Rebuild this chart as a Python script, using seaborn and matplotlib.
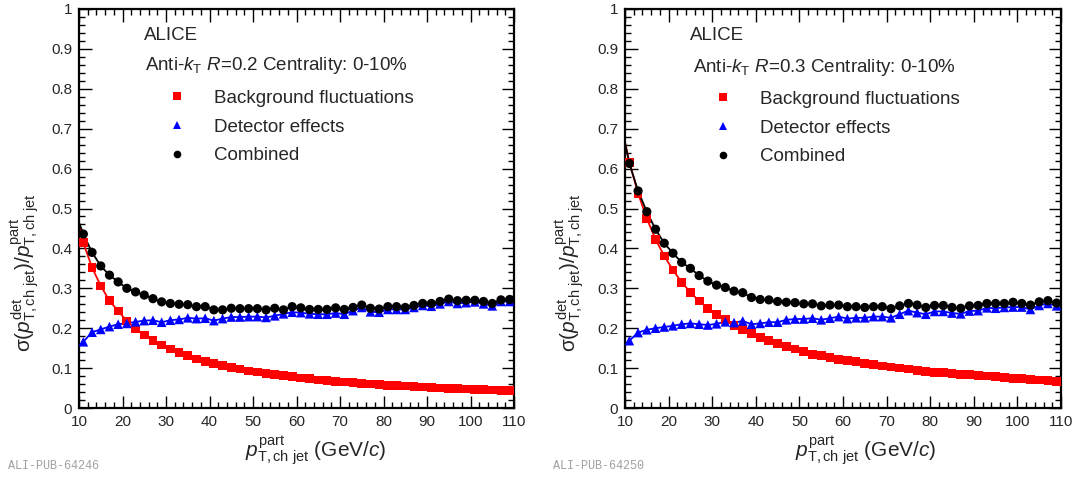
import matplotlib
matplotlib.use("Agg")
import matplotlib.pyplot as plt
from matplotlib.lines import Line2D
from matplotlib.ticker import FixedLocator, FixedFormatter, MultipleLocator
import seaborn as sns

# ---------------- data ----------------
pt_bins = [11, 13, 15, 17, 19, 21, 23, 25, 27, 29, 31, 33, 35, 37, 39, 41, 43, 45, 47, 49,
           51, 53, 55, 57, 59, 61, 63, 65, 67, 69, 71, 73, 75, 77, 79, 81, 83, 85, 87, 89,
           91, 93, 95, 97, 99, 101, 103, 105, 107, 109]

# R = 0.2
bkg_r02 = [0.414, 0.352, 0.306, 0.269, 0.243, 0.218, 0.198, 0.183, 0.170, 0.158,
           0.148, 0.139, 0.131, 0.123, 0.117, 0.111, 0.106, 0.102, 0.098, 0.093,
           0.090, 0.087, 0.083, 0.081, 0.078, 0.075, 0.073, 0.070, 0.0685, 0.067,
           0.065, 0.0635, 0.062, 0.060, 0.0585, 0.057, 0.056, 0.055, 0.0535, 0.0525,
           0.052, 0.050, 0.049, 0.0485, 0.0475, 0.047, 0.046, 0.045, 0.044, 0.0435]
det_r02 = [0.166, 0.190, 0.197, 0.204, 0.210, 0.212, 0.216, 0.219, 0.220, 0.215,
           0.220, 0.222, 0.226, 0.224, 0.225, 0.219, 0.224, 0.228, 0.228, 0.229,
           0.229, 0.227, 0.231, 0.236, 0.240, 0.239, 0.236, 0.235, 0.235, 0.238,
           0.235, 0.244, 0.252, 0.241, 0.240, 0.247, 0.247, 0.247, 0.252, 0.257,
           0.255, 0.261, 0.267, 0.262, 0.264, 0.266, 0.261, 0.256, 0.267, 0.267]
comb_r02 = [0.436, 0.390, 0.356, 0.333, 0.316, 0.300, 0.291, 0.283, 0.274, 0.266,
            0.262, 0.260, 0.259, 0.254, 0.254, 0.246, 0.246, 0.250, 0.249, 0.249,
            0.249, 0.246, 0.250, 0.246, 0.254, 0.251, 0.247, 0.247, 0.247, 0.251,
            0.247, 0.252, 0.258, 0.250, 0.248, 0.254, 0.254, 0.252, 0.257, 0.262,
            0.262, 0.267, 0.273, 0.269, 0.270, 0.270, 0.267, 0.262, 0.271, 0.272]

# R = 0.3
bkg_r03 = [0.616, 0.538, 0.475, 0.423, 0.381, 0.346, 0.315, 0.290, 0.268, 0.250,
           0.235, 0.221, 0.207, 0.196, 0.186, 0.177, 0.169, 0.161, 0.154, 0.148,
           0.141, 0.135, 0.131, 0.127, 0.122, 0.120, 0.116, 0.112, 0.109, 0.105,
           0.103, 0.100, 0.098, 0.094, 0.092, 0.089, 0.088, 0.086, 0.084, 0.083,
           0.081, 0.080, 0.0785, 0.076, 0.074, 0.0735, 0.072, 0.070, 0.0685, 0.067]
det_r03 = [0.169, 0.189, 0.196, 0.200, 0.203, 0.206, 0.210, 0.212, 0.210, 0.208,
           0.211, 0.216, 0.214, 0.218, 0.210, 0.212, 0.215, 0.215, 0.221, 0.223,
           0.223, 0.225, 0.221, 0.225, 0.229, 0.224, 0.226, 0.226, 0.229, 0.229,
           0.226, 0.235, 0.244, 0.239, 0.235, 0.242, 0.242, 0.238, 0.236, 0.243,
           0.244, 0.251, 0.250, 0.252, 0.253, 0.253, 0.247, 0.257, 0.262, 0.256]
comb_r03 = [0.613, 0.544, 0.492, 0.448, 0.413, 0.388, 0.365, 0.350, 0.332, 0.318,
            0.308, 0.302, 0.293, 0.289, 0.277, 0.272, 0.271, 0.267, 0.265, 0.264,
            0.261, 0.261, 0.256, 0.258, 0.258, 0.254, 0.254, 0.252, 0.254, 0.254,
            0.249, 0.256, 0.262, 0.258, 0.252, 0.257, 0.257, 0.252, 0.250, 0.256,
            0.257, 0.262, 0.262, 0.262, 0.265, 0.262, 0.258, 0.266, 0.269, 0.263]

# curve values at the lower edge (x = 10) where the drawn curves start
curve_start_x = 10
start_r02 = {"bkg": 0.46, "det": 0.155, "comb": 0.465}
start_r03 = {"bkg": 0.665, "det": 0.158, "comb": 0.665}

x_ticks = [10, 20, 30, 40, 50, 60, 70, 80, 90, 100, 110]
x_tick_labels = ["10", "20", "30", "40", "50", "60", "70", "80", "90", "100", "110"]
y_ticks = [0, 0.1, 0.2, 0.3, 0.4, 0.5, 0.6, 0.7, 0.8, 0.9, 1.0]
y_tick_labels = ["0", "0.1", "0.2", "0.3", "0.4", "0.5", "0.6", "0.7", "0.8", "0.9", "1"]

series_labels = ["Background fluctuations", "Detector effects", "Combined"]
radius_labels = ["0.2", "0.3"]
pub_ids = ["ALI-PUB-64246", "ALI-PUB-64250"]

# ---------------- style ----------------
sns.set_style("ticks")
FONT = "Liberation Sans"
plt.rcParams["font.family"] = [FONT, "DejaVu Sans"]
plt.rcParams["mathtext.fontset"] = "custom"
plt.rcParams["mathtext.rm"] = FONT
plt.rcParams["mathtext.it"] = FONT + ":italic"
plt.rcParams["mathtext.bf"] = FONT + ":bold"

W, H = 1078, 478
fig = plt.figure(figsize=(W / 100, H / 100), dpi=100)

def fx(px):
    return px / W

def fy(py):
    return 1 - py / H

panels = [
    dict(ax_px=(79, 9, 514, 408), bkg=bkg_r02, det=det_r02, comb=comb_r02, start=start_r02,
         R=radius_labels[0], pub=pub_ids[0], alice=(144, 36), anti=(145, 66),
         leg=(158, 127), xlab=(316, 451), ylab=(25, 272), pubpos=(8, 466)),
    dict(ax_px=(625, 9, 1061, 408), bkg=bkg_r03, det=det_r03, comb=comb_r03, start=start_r03,
         R=radius_labels[1], pub=pub_ids[1], alice=(690, 36), anti=(693, 67),
         leg=(704, 128), xlab=(866, 451), ylab=(570, 272), pubpos=(553, 466)),
]

red, blue, black = "#ff0000", "#0000ff", "#000000"

for p in panels:
    l, t, r, b = p["ax_px"]
    ax = fig.add_axes([fx(l), fy(b), (r - l) / W, (b - t) / H])

    for key, vals, col, mk, sz in [("bkg", p["bkg"], red, "s", 40),
                                   ("det", p["det"], blue, "^", 48),
                                   ("comb", p["comb"], black, "o", 44)]:
        sns.lineplot(x=[curve_start_x] + pt_bins, y=[p["start"][key]] + vals, ax=ax,
                     color=col, lw=1.3, sort=False, zorder=2)
        sns.scatterplot(x=pt_bins, y=vals, ax=ax, color=col, marker=mk, s=sz,
                        edgecolor="none", linewidth=0, zorder=3)

    ax.set_xlim(10, 110)
    ax.set_ylim(0, 1)
    ax.xaxis.set_major_locator(FixedLocator(x_ticks))
    ax.xaxis.set_major_formatter(FixedFormatter(x_tick_labels))
    ax.yaxis.set_major_locator(FixedLocator(y_ticks))
    ax.yaxis.set_major_formatter(FixedFormatter(y_tick_labels))
    ax.xaxis.set_minor_locator(MultipleLocator(2))
    ax.yaxis.set_minor_locator(MultipleLocator(0.02))
    ax.tick_params(which="both", direction="in", top=True, right=True, width=1.0,
                   color="black")
    ax.tick_params(which="major", length=9, labelsize=11, pad=5)
    ax.tick_params(which="minor", length=4.5)
    for s in ax.spines.values():
        s.set_linewidth(1.6)
        s.set_color("black")
    ax.set_xlabel("")
    ax.set_ylabel("")
    ax.grid(False)

    fig.text(fx(p["alice"][0]), fy(p["alice"][1]), "ALICE", fontsize=13.5,
             ha="left", va="center")
    fig.text(fx(p["anti"][0]), fy(p["anti"][1]),
             r"Anti-$k_{\mathrm{T}}$ $R$=" + p["R"] + " Centrality: 0-10%",
             fontsize=13.5, ha="left", va="center")

    handles = [Line2D([], [], ls="none", marker="s", color=red, markersize=5.5, mew=0),
               Line2D([], [], ls="none", marker="^", color=blue, markersize=5.5, mew=0),
               Line2D([], [], ls="none", marker="o", color=black, markersize=5.5, mew=0)]
    fig.legend(handles, series_labels, loc="center left",
               bbox_to_anchor=(fx(p["leg"][0]), fy(p["leg"][1])),
               frameon=False, fontsize=13.5, handlelength=2.0, handletextpad=1.0,
               labelspacing=0.62, borderpad=0, borderaxespad=0)

    fig.text(fx(p["xlab"][0]), fy(p["xlab"][1]),
             r"$p^{\mathrm{part}}_{\mathrm{T,ch\ jet}}$ (GeV/$c$)", fontsize=15,
             ha="center", va="center")
    fig.text(fx(p["ylab"][0]), fy(p["ylab"][1]),
             r"σ($p^{\mathrm{det}}_{\mathrm{T,ch\ jet}}$)/$p^{\mathrm{part}}_{\mathrm{T,ch\ jet}}$",
             fontsize=15, ha="center", va="center", rotation=90)
    fig.text(fx(p["pubpos"][0]), fy(p["pubpos"][1]), p["pub"], fontsize=8.5,
             family="Liberation Mono", color="#a0a0a0", ha="left", va="center")

fig.savefig("out.png", dpi=100)
